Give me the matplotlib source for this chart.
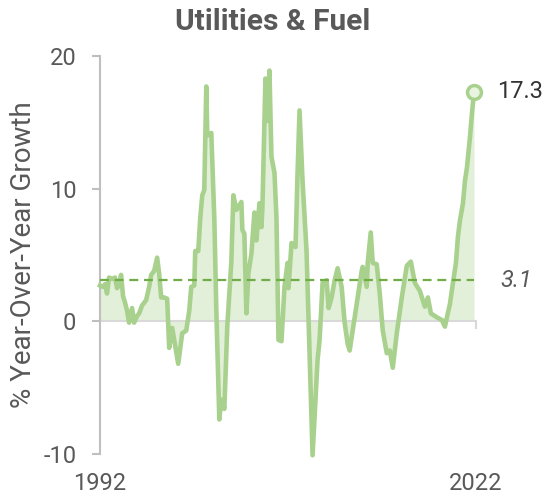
import matplotlib
matplotlib.use("Agg")
import matplotlib.pyplot as plt

plt.rcParams['font.family'] = ['Roboto', 'DejaVu Sans']

years = [1992.00, 1992.24, 1992.40, 1992.56, 1992.72, 1992.96, 1993.20, 1993.36, 1993.52, 1993.68,
         1993.84, 1994.00, 1994.16, 1994.32, 1994.56, 1994.72, 1994.96, 1995.12, 1995.36, 1995.68,
         1995.92, 1996.08, 1996.32, 1996.56, 1996.72, 1996.88, 1997.12, 1997.36, 1997.52, 1997.76,
         1997.92, 1998.24, 1998.56, 1998.88, 1999.12, 1999.28, 1999.52, 1999.60, 1999.84, 2000.00,
         2000.16, 2000.32, 2000.48, 2000.56, 2000.88, 2001.12, 2001.28, 2001.52, 2001.68, 2001.92,
         2002.16, 2002.48, 2002.64, 2002.88, 2003.28, 2003.36, 2003.52, 2003.68, 2003.84, 2004.08,
         2004.32, 2004.48, 2004.72, 2004.88, 2004.96, 2005.20, 2005.36, 2005.52, 2005.68, 2005.92,
         2006.08, 2006.24, 2006.48, 2006.72, 2006.96, 2007.04, 2007.28, 2007.60, 2007.76, 2007.92,
         2008.16, 2008.48, 2008.96, 2009.36, 2009.52, 2009.76, 2010.08, 2010.24, 2010.48, 2010.72,
         2010.96, 2011.28, 2011.52, 2011.76, 2011.92, 2012.16, 2012.56, 2012.88, 2012.96, 2013.28,
         2013.36, 2013.60, 2013.76, 2014.08, 2014.32, 2014.56, 2014.88, 2015.12, 2015.36, 2015.68,
         2016.08, 2016.48, 2016.80, 2017.12, 2017.52, 2017.92, 2018.16, 2018.40, 2018.88, 2019.28,
         2019.52, 2019.68, 2019.92, 2020.16, 2020.40, 2020.56, 2020.72, 2020.96, 2021.12, 2021.28,
         2021.52, 2021.68, 2021.84]

growth = [2.7, 2.6, 2.8, 2.1, 3.3, 3.2, 3.3, 2.5, 2.7, 3.5,
          1.9, 1.4, 0.8, -0.1, 1.0, -0.1, 0.4, 0.6, 1.2, 1.6,
          2.6, 3.5, 3.8, 4.8, 3.6, 1.8, 1.8, 1.7, -2.0, -0.5,
          -1.4, -3.2, -0.9, -0.7, 0.8, 2.6, 2.7, 5.3, 5.3, 7.8,
          9.5, 9.9, 17.7, 14.0, 14.2, 7.8, 0.9, -7.4, -5.9, -6.6,
          -0.3, 4.5, 9.5, 8.4, 9.0, 6.9, 6.6, 0.6, 3.6, 5.1,
          8.2, 6.1, 8.9, 7.1, 8.6, 18.3, 15.1, 18.9, 12.4, 11.2,
          7.8, -1.4, -1.5, 2.6, 4.4, 2.5, 5.9, 5.6, 11.1, 15.9,
          10.6, 5.3, -10.1, -2.9, -1.4, 2.9, 3.1, 1.0, 1.8, 3.1,
          4.0, 2.6, -0.1, -1.7, -2.2, -0.7, 1.8, 3.8, 4.1, 2.6,
          4.4, 6.7, 4.4, 4.3, 2.1, -0.7, -2.4, -2.2, -3.5, -0.9,
          1.8, 4.2, 4.5, 2.9, 2.3, 1.1, 1.8, 0.6, 0.3, 0.1,
          -0.4, 0.3, 1.3, 2.9, 4.4, 6.4, 7.6, 8.9, 10.6, 11.6,
          13.9, 15.7, 17.3]

average = 3.1
title = "Utilities & Fuel"
ylabel = "% Year-Over-Year Growth"
yticks = [-10, 0, 10, 20]
xticks = [1992, 2022]
xticklabels = ["1992", "2022"]

line_c = "#a9d18e"
fill_c = "#e2efd9"
avg_c = "#70ad47"
gray_txt = "#595959"
spine_c = "#bfbfbf"

fig = plt.figure(figsize=(5.46, 4.97), dpi=100)
ax = fig.add_axes([100 / 546, (497 - 454) / 497, 376 / 546, 398 / 497])

ax.fill_between(years, growth, 0, color=fill_c, lw=0, zorder=1)
ax.axhline(0, xmin=0, xmax=1, color="#d9d9d9", lw=1.5, zorder=1.5)
ax.plot([xticks[1], xticks[1]], [0, -0.5], color="#d9d9d9", lw=1.5, clip_on=False)
ax.plot(years, growth, color=line_c, lw=3.3, solid_joinstyle="round", zorder=3, clip_on=False)
ax.hlines(average, years[0], years[-1], colors=avg_c, linestyles=(0, (4, 2.6)), lw=1.6, zorder=4)
ax.plot([years[-1]], [growth[-1]], marker="o", ms=10, mfc="#e8f3e0", mec=line_c, mew=2.5,
        zorder=5, clip_on=False)

ax.annotate(f"{growth[-1]:.1f}", (years[-1], growth[-1]), xytext=(16.5, 0),
            textcoords="offset points", va="center", ha="left", fontsize=17, color="#333333")
ax.annotate(f"{average:.1f}", (years[-1], average), xytext=(19, 0),
            textcoords="offset points", va="center", ha="left", fontsize=17,
            style="italic", color=gray_txt)

ax.set_xlim(1992, 2022)
ax.set_ylim(-10, 20)
ax.set_yticks(yticks)
ax.set_yticklabels([str(t) for t in yticks])
ax.set_xticks(xticks)
ax.set_xticklabels(xticklabels)

for s in ["top", "right", "bottom"]:
    ax.spines[s].set_visible(False)
ax.spines["left"].set_color(spine_c)
ax.spines["left"].set_linewidth(1.5)
ax.tick_params(axis="y", length=6, width=1.5, color=spine_c, labelsize=17,
               labelcolor=gray_txt, pad=11)
ax.tick_params(axis="x", length=0, labelsize=17, labelcolor=gray_txt, pad=13)

ax.set_ylabel(ylabel, fontsize=20, color=gray_txt)
ax.yaxis.set_label_coords(-0.168, 0.5)
fig.text(0.5, 0.955, title, ha="center", va="center", fontsize=21.5,
         fontweight="bold", color=gray_txt)

fig.savefig("out.png", dpi=100)
